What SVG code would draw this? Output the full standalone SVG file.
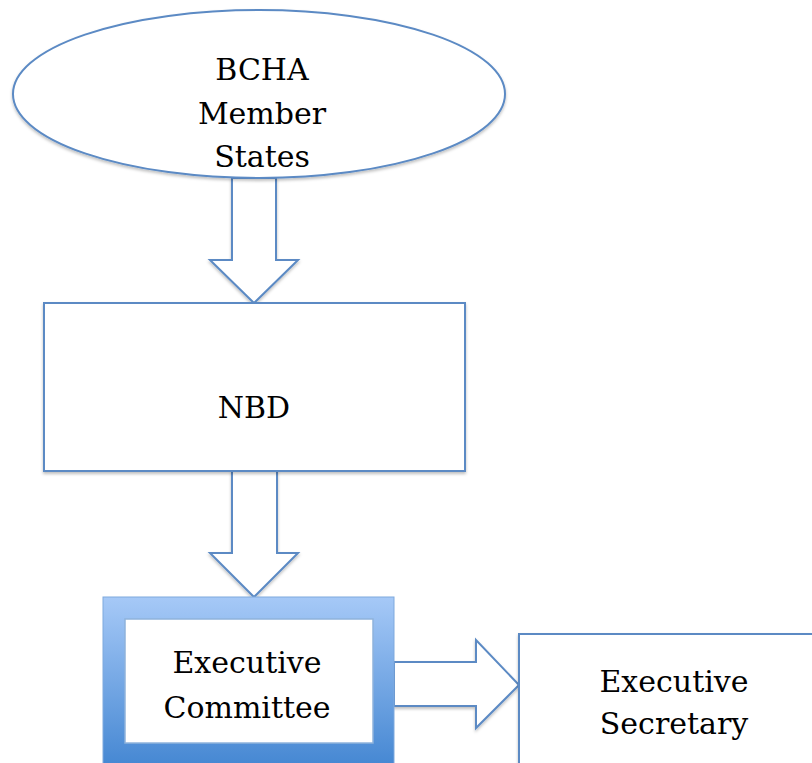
<svg xmlns="http://www.w3.org/2000/svg" width="812" height="763" viewBox="0 0 812 763">
<defs>
<linearGradient id="g" x1="0" y1="0" x2="0" y2="1">
<stop offset="0" stop-color="#a6c9f7"/>
<stop offset="1" stop-color="#3f83d0"/>
</linearGradient>
<filter id="sh" x="-10%" y="-10%" width="120%" height="130%">
<feDropShadow dx="0" dy="2" stdDeviation="1.5" flood-color="#000" flood-opacity="0.25"/>
</filter>
</defs>
<style>
.s{fill:#fff;stroke:#5b8ac4;stroke-width:2}
.t{font-family:"DejaVu Serif","Liberation Serif",serif;font-size:30px;fill:#000;text-anchor:middle}
</style>
<rect width="812" height="763" fill="#fff"/>
<g id="connectors">
<polygon class="s" filter="url(#sh)" points="232,178 276,178 276,260 298,260 254,303 210,260 232,260"/>
<polygon class="s" filter="url(#sh)" points="232,471 277,471 277,553 298,553 254,597 210,553 232,553"/>
<polygon class="s" filter="url(#sh)" points="394,662 476,662 476,640 519,685 476,728 476,706 394,706"/>
</g>
<g id="bcha">
<ellipse class="s" filter="url(#sh)" cx="259" cy="94" rx="246" ry="84"/>
<text class="t" x="262" y="80">BCHA</text>
<text class="t" x="262" y="124">Member</text>
<text class="t" x="262" y="167">States</text>
</g>
<g id="nbd">
<rect class="s" filter="url(#sh)" x="44" y="303" width="421" height="168"/>
<text class="t" x="254" y="418">NBD</text>
</g>
<g id="exec-committee">
<rect x="103" y="597" width="291" height="180" fill="url(#g)" stroke="#7fa9dd" stroke-width="1"/>
<rect x="125" y="619" width="248" height="124" fill="#fff" stroke="#8fb3dc" stroke-width="1.5"/>
<text class="t" x="247" y="673">Executive</text>
<text class="t" x="247" y="718">Committee</text>
</g>
<g id="exec-secretary">
<rect class="s" filter="url(#sh)" x="519" y="634" width="320" height="160"/>
<text class="t" x="674" y="692">Executive</text>
<text class="t" x="674" y="734">Secretary</text>
</g>
</svg>
